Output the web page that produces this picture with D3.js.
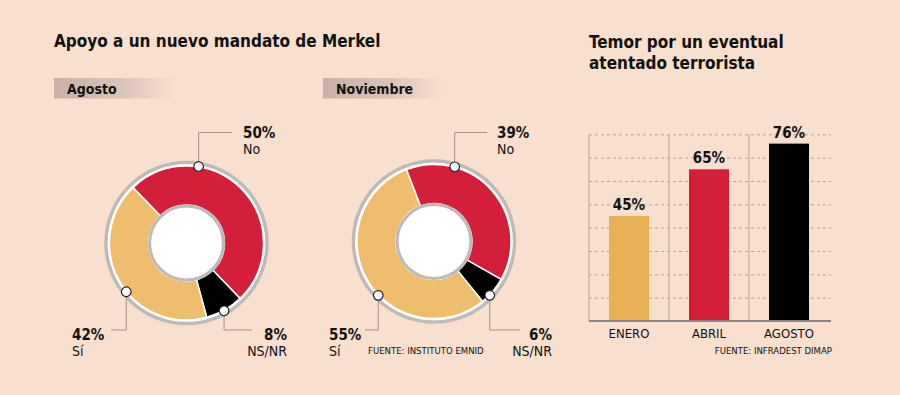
<!DOCTYPE html>
<html>
<head>
<meta charset="utf-8">
<script src="https://cdn.jsdelivr.net/npm/d3@7"></script>
<style>
  body { margin: 0; background: #f9dfcd; }
  svg { display: block; }
</style>
</head>
<body>
<svg id="chart" width="900" height="395"></svg>
<script>
(function() {
  'use strict';

  // Data
  const donutCategories = ['No', 'NS/NR', 'Sí'];
  const agostoValues = [50, 8, 42];
  const noviembreValues = [39, 6, 55];
  const donutPeriods = ['Agosto', 'Noviembre'];
  const barCategories = ['ENERO', 'ABRIL', 'AGOSTO'];
  const barValues = [45, 65, 76];
  const barTicks = [0, 10, 20, 30, 40, 50, 60, 70, 80];

  const bg = '#f9dfcd';
  const donutColors = d3.scaleOrdinal().domain(donutCategories).range(['#d41f3b', '#000000', '#efbd6e']);
  const barColors = d3.scaleOrdinal().domain(barCategories).range(['#e9b155', '#d41f3b', '#000000']);
  const titleFont = '"DejaVu Sans Condensed", "DejaVu Sans", sans-serif';
  const narrowFont = '"Liberation Sans Narrow", "DejaVu Sans Condensed", sans-serif';

  let svg = d3.select('#chart');

  // Gradient for the period headers
  let grad = svg.append('defs').append('linearGradient').attr('id', 'hdr');
  grad.append('stop').attr('offset', '0%').attr('stop-color', '#c8b2a8');
  grad.append('stop').attr('offset', '55%').attr('stop-color', '#d9c3b8');
  grad.append('stop').attr('offset', '100%').attr('stop-color', bg);

  // Titles
  svg.append('text')
    .attr('x', 54).attr('y', 47)
    .style('font-family', titleFont).style('font-weight', 'bold').style('font-size', '17px')
    .style('fill', '#111')
    .text('Apoyo a un nuevo mandato de Merkel');

  let t2 = svg.append('text')
    .style('font-family', titleFont).style('font-weight', 'bold').style('font-size', '17px')
    .style('fill', '#111');
  t2.append('tspan').attr('x', 589).attr('y', 48).text('Temor por un eventual');
  t2.append('tspan').attr('x', 589).attr('y', 69).text('atentado terrorista');

  // Donuts
  const donuts = [
    {
      values: agostoValues, cx: 186.5, cy: 243, start: -44, hx: 54,
      labels: [
        { angle: 9, side: 'top', lineX: 232, textX: 243, anchor: 'start' },
        { angle: 151, side: 'bottom', lineX: 252, textX: 287, anchor: 'end' },
        { angle: 231, side: 'bottom', lineX: 111, textX: 72, anchor: 'start' }
      ]
    },
    {
      values: noviembreValues, cx: 434, cy: 241.5, start: -21, hx: 323,
      labels: [
        { angle: 15.5, side: 'top', lineX: 487, textX: 497, anchor: 'start' },
        { angle: 134, side: 'bottom', lineX: 520, textX: 552, anchor: 'end' },
        { angle: 226, side: 'bottom', lineX: 365, textX: 329, anchor: 'start' }
      ]
    }
  ];

  const rOuter = 77, rInner = 38;
  let arc = d3.arc().innerRadius(rInner).outerRadius(rOuter);

  donuts.forEach((dn, k) => {
    // Period header
    svg.append('rect')
      .attr('x', dn.hx).attr('y', 78).attr('width', 120).attr('height', 20.5)
      .style('fill', 'url(#hdr)');
    svg.append('text')
      .attr('x', dn.hx + 13).attr('y', 93.5)
      .style('font-family', titleFont).style('font-weight', 'bold').style('font-size', '14px')
      .style('fill', '#111')
      .text(donutPeriods[k]);

    let pie = d3.pie().sort(null)
      .value(d => d.value)
      .startAngle(dn.start * Math.PI / 180)
      .endAngle(dn.start * Math.PI / 180 + 2 * Math.PI);
    let arcs = pie(dn.values.map((v, i) => ({ name: donutCategories[i], value: v })));

    let g = svg.append('g').attr('transform', 'translate(' + dn.cx + ',' + dn.cy + ')');

    g.append('circle').attr('r', 80.5)
      .style('fill', 'none').style('stroke', '#bdbab7').style('stroke-width', 3.5);
    g.append('circle').attr('r', 78)
      .style('fill', 'none').style('stroke', '#ffffff').style('stroke-width', 1.6);

    g.selectAll('path.slice')
      .data(arcs)
      .enter()
      .append('path')
      .attr('class', 'slice')
      .attr('d', arc)
      .style('fill', d => donutColors(d.data.name))
      .style('stroke', '#ffffff')
      .style('stroke-width', 1.5);

    g.append('circle').attr('r', 37)
      .style('fill', '#ffffff').style('stroke', '#bdbab7').style('stroke-width', 3.2);

    // Labels with leaders
    dn.labels.forEach((lb, i) => {
      let a = lb.angle * Math.PI / 180;
      let rd = 77.5;
      let px = dn.cx + rd * Math.sin(a);
      let py = dn.cy - rd * Math.cos(a);
      let ly = lb.side === 'top' ? 132.5 : 330;
      svg.append('path')
        .attr('d', 'M' + px + ',' + py + 'V' + ly + 'H' + lb.lineX)
        .style('fill', 'none').style('stroke', '#9c9590').style('stroke-width', 1);
      svg.append('circle')
        .attr('cx', px).attr('cy', py).attr('r', 4.8)
        .style('fill', '#ffffff').style('stroke', '#222').style('stroke-width', 1.2);

      let ty = lb.side === 'top' ? 138 : 340;
      svg.append('text')
        .attr('x', lb.textX).attr('y', ty)
        .attr('text-anchor', lb.anchor)
        .style('font-family', titleFont).style('font-weight', 'bold').style('font-size', '15px')
        .style('fill', '#111')
        .text(dn.values[i] + '%');
      svg.append('text')
        .attr('x', lb.textX).attr('y', ty + 15.5)
        .attr('text-anchor', lb.anchor)
        .style('font-family', titleFont).style('font-size', '14px')
        .style('fill', '#111')
        .text(donutCategories[i]);
    });
  });

  svg.append('text')
    .attr('x', 368).attr('y', 354)
    .style('font-family', narrowFont).style('font-size', '9.5px')
    .style('fill', '#111')
    .text('FUENTE: INSTITUTO EMNID');

  // Bar chart
  let x = d3.scaleBand()
    .domain(barCategories)
    .range([589, 829])
    .paddingInner(0.5)
    .paddingOuter(0.25);
  let y = d3.scaleLinear()
    .domain([0, 80])
    .range([321, 134.3]);

  // Dashed horizontal grid
  let grid = svg.append('g')
    .attr('transform', 'translate(589,0)')
    .call(d3.axisLeft(y).tickValues(barTicks).tickSize(-242).tickFormat(''));
  grid.select('.domain').remove();
  grid.selectAll('.tick line')
    .style('stroke', '#b3a69f')
    .style('stroke-dasharray', '3,3');

  // Vertical separators
  let sep = x.step() * x.paddingInner() / 2;
  svg.selectAll('line.vsep')
    .data(barCategories)
    .enter()
    .append('line')
    .attr('class', 'vsep')
    .attr('x1', d => x(d) - sep).attr('x2', d => x(d) - sep)
    .attr('y1', y(80)).attr('y2', y(0))
    .style('stroke', (d, i) => i === 0 ? '#cdb5a7' : '#b3a69f')
    .style('stroke-width', (d, i) => i === 0 ? 1.5 : 1);

  svg.selectAll('rect.bar')
    .data(barValues)
    .enter()
    .append('rect')
    .attr('class', 'bar')
    .attr('x', (d, i) => x(barCategories[i]))
    .attr('y', d => y(d))
    .attr('width', x.bandwidth())
    .attr('height', d => y(0) - y(d))
    .style('fill', (d, i) => barColors(barCategories[i]));

  svg.selectAll('text.val')
    .data(barValues)
    .enter()
    .append('text')
    .attr('class', 'val')
    .attr('x', (d, i) => x(barCategories[i]) + x.bandwidth() / 2)
    .attr('y', d => y(d) - 6)
    .attr('text-anchor', 'middle')
    .style('font-family', titleFont).style('font-weight', 'bold').style('font-size', '15px')
    .style('fill', '#111')
    .text(d => d + '%');

  // Baseline and categories
  let xAxis = svg.append('g')
    .attr('transform', 'translate(0,' + y(0) + ')')
    .call(d3.axisBottom(x).tickSize(0).tickPadding(8));
  xAxis.select('.domain')
    .attr('d', 'M589,0H831')
    .style('stroke', '#8d8580').style('stroke-width', 2);
  xAxis.selectAll('text')
    .style('font-family', narrowFont).style('font-size', '13px')
    .style('fill', '#111');

  svg.append('text')
    .attr('x', 832).attr('y', 354)
    .attr('text-anchor', 'end')
    .style('font-family', narrowFont).style('font-size', '9.5px')
    .style('fill', '#111')
    .text('FUENTE: INFRADEST DIMAP');
})();
</script>
</body>
</html>
